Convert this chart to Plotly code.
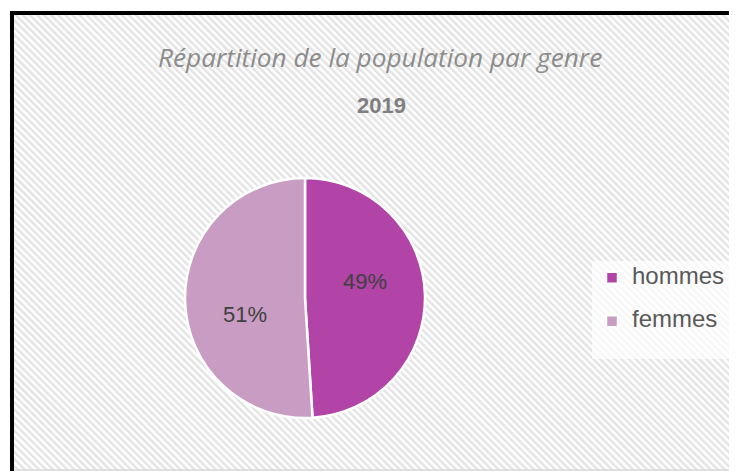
import plotly.graph_objects as go
import urllib.parse

# Data
labels = ["hommes", "femmes"]
values = [49, 51]
title_text = "Répartition de la population par genre"
subtitle_text = "2019"
colors = ["#b144a6", "#c99dc3"]

# Page body has an 8px margin: figure is placed at (8, 8) in the window
OFF = 8
W, H = 737 - OFF, 473 - OFF


def px(x):
    return (x - OFF) / W


def py(y):
    return 1 - (y - OFF) / H


svg = ('<svg xmlns="http://www.w3.org/2000/svg" width="723" height="456">'
       '<defs><pattern id="p" width="5" height="5" patternUnits="userSpaceOnUse" patternTransform="rotate(-45)">'
       '<rect width="5" height="5" fill="#ffffff"/><rect width="2.5" height="5" fill="#e4e4e4"/></pattern></defs>'
       '<rect width="723" height="456" fill="url(#p)"/></svg>')
src = "data:image/svg+xml;charset=utf-8," + urllib.parse.quote(svg)

cx, cy, r = 305, 298, 120

legend_labels = ['<span style="font-size:24px">%s</span><br> ' % l for l in labels]

fig = go.Figure(go.Pie(
    labels=legend_labels,
    values=values,
    sort=False,
    direction="clockwise",
    rotation=0,
    marker=dict(colors=colors, line=dict(color="white", width=2.5)),
    textinfo="percent",
    texttemplate=["%{percent:.0%}<br> ", " <br>%{percent:.0%}"],
    textposition="inside",
    insidetextorientation="horizontal",
    textfont=dict(family="Liberation Sans, Arial", size=22, color="#404040"),
    domain=dict(x=[px(cx - r), px(cx + r)], y=[py(cy + r), py(cy - r)]),
    hoverinfo="percent",
))

fig.update_layout(
    width=W, height=H,
    margin=dict(l=0, r=0, t=0, b=0),
    paper_bgcolor="white",
    plot_bgcolor="white",
    showlegend=True,
    legend=dict(
        x=px(592), y=py(261), xanchor="left", yanchor="top",
        bgcolor="rgba(255,255,255,0.7)",
        font=dict(family="Liberation Sans, Arial", size=15.6, color="#595959"),
        valign="top",
        itemwidth=30,
    ),
    images=[dict(source=src, xref="paper", yref="paper",
                 x=px(14), y=py(15), sizex=723 / W, sizey=456 / H,
                 xanchor="left", yanchor="top", sizing="stretch", layer="below")],
    shapes=[
        dict(type="line", xref="paper", yref="paper", x0=px(10), x1=1, y0=py(13), y1=py(13),
             line=dict(color="black", width=4)),
        dict(type="line", xref="paper", yref="paper", x0=px(12), x1=px(12), y0=py(11), y1=py(471),
             line=dict(color="black", width=4)),
        dict(type="line", xref="paper", yref="paper", x0=px(14), x1=1, y0=py(470), y1=py(470),
             line=dict(color="#d9d9d9", width=1.5)),
    ],
    annotations=[
        dict(text=title_text, xref="paper", yref="paper", x=px(380), y=py(57),
             showarrow=False, xanchor="center", yanchor="middle",
             font=dict(family="Open Sans, Noto Sans", size=26.2, color="#8c8c8c", style="italic")),
        dict(text="<b>" + subtitle_text + "</b>", xref="paper", yref="paper", x=px(381), y=py(105),
             showarrow=False, xanchor="center", yanchor="middle",
             font=dict(family="Liberation Sans, Arial", size=22, color="#7f7f7f")),
    ],
)

fig.write_html("out.html")
